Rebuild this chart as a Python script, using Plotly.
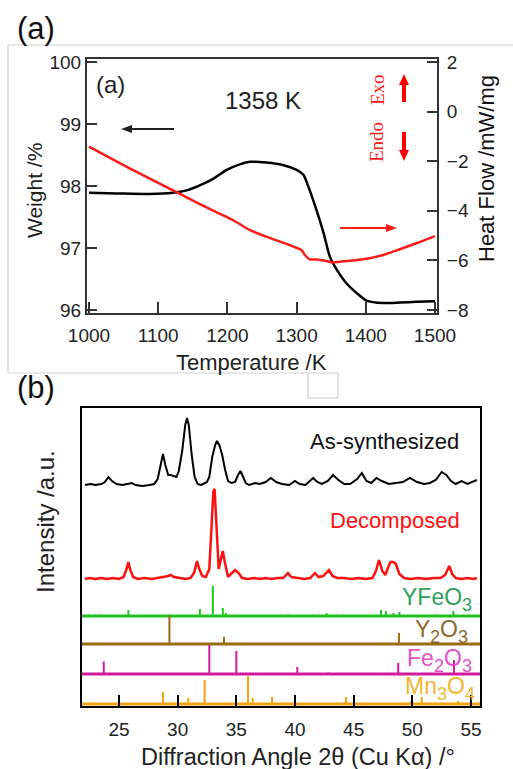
import plotly.graph_objects as go

# ---------------- data: panel (a) TG / DTA ----------------
tg_T = [1000, 1040, 1088, 1121, 1141, 1160, 1180, 1199, 1218, 1233, 1256, 1280, 1300, 1310,
        1317, 1327, 1339, 1348, 1358, 1372, 1387, 1401, 1425, 1450, 1473, 1500]
tg_w = [97.89, 97.88, 97.87, 97.89, 97.93, 98.01, 98.12, 98.26, 98.35, 98.39, 98.38, 98.34, 98.26, 98.18,
        97.99, 97.67, 97.24, 96.86, 96.65, 96.43, 96.27, 96.15, 96.11, 96.12, 96.13, 96.14]
dta_T = [1000, 1063, 1130, 1160, 1208, 1232, 1256, 1280, 1300, 1307, 1312, 1319, 1329, 1343,
         1353, 1377, 1401, 1425, 1449, 1473, 1500]
dta_h = [-1.41, -2.35, -3.30, -3.73, -4.37, -4.77, -5.04, -5.28, -5.49, -5.58, -5.78, -5.96, -5.96, -6.02,
         -6.08, -6.01, -5.93, -5.78, -5.55, -5.31, -5.02]
temp_ticks = [1000, 1100, 1200, 1300, 1400, 1500]
weight_ticks = [96, 97, 98, 99, 100]
heat_ticks = [-8, -6, -4, -2, 0, 2]

# ---------------- data: panel (b) XRD ----------------
as_x = [22.1, 22.6, 23.0, 23.5, 23.8, 24.1, 24.4, 24.8, 25.3, 25.8, 26.1, 26.4, 27.0, 27.6, 28.0, 28.3,
        28.55, 28.75, 28.95, 29.2, 29.4, 29.7, 29.9, 30.1, 30.4, 30.65, 30.8, 30.95, 31.2, 31.45, 31.7,
        32.0, 32.3, 32.5, 32.7, 32.95, 33.2, 33.35, 33.55, 33.8, 34.05, 34.3, 34.6, 34.9, 35.15, 35.35,
        35.55, 35.8, 36.1, 36.6, 37.0, 37.5, 37.95, 38.4, 38.9, 39.5, 40.0, 40.4, 40.9, 41.2, 41.55,
        41.9, 42.3, 42.8, 43.25, 43.7, 44.2, 44.7, 45.3, 45.7, 46.1, 46.5, 46.95, 47.4, 48.0, 48.6,
        49.2, 49.8, 50.4, 51.0, 51.5, 52.0, 52.5, 52.9, 53.3, 53.7, 54.2, 54.7, 55.1, 55.5]
as_i = [0, 1, 0, 1, 3, 8, 4, 1, 0, 1, 2, 0, -1, 0, 1, 6,
        22, 31, 20, 10, 10, 9, 8, 14, 35, 60, 67, 60, 30, 8, 1,
        0, 2, 3, 8, 28, 40, 44, 40, 30, 15, 4, 2, 3, 10, 14,
        9, 2, 0, 2, 1, 3, 7, 3, 1, 0, 4, 1, 0, 3, 7,
        3, 1, 4, 10, 5, 1, 1, 6, 12, 4, 2, 7, 4, 1, 2,
        3, 7, 3, 1, 2, 5, 13, 10, 4, 1, 4, 1, 3, 5]

dec_x = [22.1, 22.5, 23.0, 23.5, 24.0, 24.5, 25.0, 25.4, 25.65, 25.8, 25.95, 26.2, 26.6, 27.2, 27.8,
         28.4, 28.9, 29.2, 29.4, 29.7, 30.2, 30.7, 31.1, 31.4, 31.65, 31.85, 32.1, 32.4, 32.7, 32.9,
         33.05, 33.15, 33.3, 33.5, 33.65, 33.85, 34.0, 34.3, 34.55, 34.9, 35.2, 35.5, 36.0, 36.5, 37.0,
         37.5, 38.0, 38.5, 39.0, 39.4, 39.7, 40.2, 40.8, 41.3, 41.7, 42.0, 42.4, 42.9, 43.2, 43.6,
         44.2, 44.8, 45.4, 46.0, 46.6, 46.9, 47.16, 47.45, 47.7, 47.95, 48.15, 48.4, 48.6, 48.9, 49.3,
         49.8, 50.5, 51.2, 51.8, 52.4, 52.8, 53.15, 53.4, 53.7, 54.2, 54.7, 55.2, 55.5]
dec_i = [0, 1, 0, 1, 0, 1, 0, 2, 10, 17, 10, 2, 0, 1, 0,
         1, 2, 3, 4, 2, 1, 0, 1, 6, 18, 10, 3, 2, 10, 50,
         88, 90, 55, 10, 18, 28, 18, 2, 5, 9, 6, 1, 0, 1, 0,
         1, 0, 1, 1, 6, 2, 1, 0, 1, 6, 2, 3, 9, 3, 1,
         1, 0, 1, 0, 1, 8, 19, 8, 4, 12, 17, 17, 15, 5, 1,
         0, 1, 0, 1, 1, 4, 13, 5, 1, 0, 1, 0, 1]

yfeo3_pos = [23.0, 23.3, 25.8, 31.9, 33.0, 33.85, 34.1, 39.4, 39.6, 41.56, 42.7, 43.6, 47.33, 47.75, 48.4, 48.9, 52.0, 53.5]
yfeo3_int = [1.5, 1.5, 6, 7, 30, 8, 3, 1.5, 1, 1.5, 3, 1.5, 6, 5, 3, 4, 1.5, 5]
y2o3_pos = [29.3, 33.95, 48.86]
y2o3_int = [29, 7, 11]
fe2o3_pos = [23.7, 32.7, 35.0, 38.95, 40.2, 42.85, 48.8, 53.55]
fe2o3_int = [12.5, 29, 23, 1, 7, 1.5, 11, 14]
mn3o4_pos = [28.75, 30.9, 32.3, 36.0, 36.4, 38.05, 44.35, 49.9, 50.8, 53.9]
mn3o4_int = [12, 6, 24, 28, 6, 7, 7, 3, 7, 3]
theta_ticks = [25, 30, 35, 40, 45, 50, 55]

# ---------------- layout helpers ----------------
W, H = 513, 769
def fx(p): return p / W
def fy(p): return 1 - p / H

FONT = "Liberation Sans, Arial, sans-serif"
SERIF = "Liberation Serif, Times New Roman, serif"

fig = go.Figure()

# panel (a)
fig.add_trace(go.Scatter(x=tg_T, y=tg_w, mode="lines", line=dict(color="black", width=2.5, shape="spline", smoothing=0.6),
                         xaxis="x", yaxis="y", showlegend=False, hoverinfo="skip"))
fig.add_trace(go.Scatter(x=dta_T, y=dta_h, mode="lines", line=dict(color="#ff1a1a", width=2.5, shape="spline", smoothing=0.6),
                         xaxis="x", yaxis="y2", showlegend=False, hoverinfo="skip"))

# panel (b)
XMIN, XMAX = 21.85, 55.77
BASE_AS, BASE_DEC = 221, 127
phases = [
    (yfeo3_pos, yfeo3_int, 90, "#1ec51e"),
    (y2o3_pos, y2o3_int, 62, "#9c6a12"),
    (fe2o3_pos, fe2o3_int, 32, "#d01aa0"),
    (mn3o4_pos, mn3o4_int, 2, "#f5a30a"),
]
fig.add_trace(go.Scatter(x=as_x, y=[BASE_AS + v for v in as_i], mode="lines", line=dict(color="black", width=2),
                         xaxis="x2", yaxis="y3", showlegend=False, hoverinfo="skip"))
fig.add_trace(go.Scatter(x=dec_x, y=[BASE_DEC + v for v in dec_i], mode="lines", line=dict(color="#ff1010", width=2.5),
                         xaxis="x2", yaxis="y3", showlegend=False, hoverinfo="skip"))
for pos, ints, base, col in phases:
    xs, ys = [], []
    for p, v in zip(pos, ints):
        xs += [p, p, None]
        ys += [base, base + v, None]
    fig.add_trace(go.Scatter(x=[XMIN, XMAX], y=[base, base], mode="lines", line=dict(color=col, width=3),
                             xaxis="x2", yaxis="y3", showlegend=False, hoverinfo="skip"))
    fig.add_trace(go.Scatter(x=xs, y=ys, mode="lines", line=dict(color=col, width=2),
                             xaxis="x2", yaxis="y3", showlegend=False, hoverinfo="skip"))

tickfont = dict(family=FONT, size=19, color="#222")
fig.update_layout(
    width=W, height=H, autosize=False, showlegend=False,
    margin=dict(l=0, r=0, t=0, b=0, pad=0, autoexpand=False),
    paper_bgcolor="white", plot_bgcolor="white",
    xaxis=dict(domain=[fx(87), fx(437)], range=[997.1, 1502.9], tickvals=temp_ticks, ticks="inside", ticklen=11,
               tickwidth=2, tickcolor="#333", showline=True, linecolor="#333", linewidth=2, mirror=True,
               showgrid=False, zeroline=False, tickfont=tickfont, ticklabelstandoff=4, anchor="y", automargin=False),
    yaxis=dict(domain=[fy(313), fy(59)], range=[95.95, 100.05], tickvals=weight_ticks, ticks="inside", ticklen=10,
               tickwidth=2, tickcolor="#333", showline=True, linecolor="#333", linewidth=2, mirror=True,
               showgrid=False, zeroline=False, tickfont=tickfont, anchor="x", automargin=False),
    yaxis2=dict(overlaying="y", side="right", range=[-8.12, 2.12], tickvals=heat_ticks, ticks="inside", ticklen=10,
                tickwidth=2, tickcolor="#333", showline=True, linecolor="#333", linewidth=2,
                showgrid=False, zeroline=False, tickfont=tickfont, anchor="x", ticklabelstandoff=4, automargin=False),
    xaxis2=dict(domain=[fx(82), fx(480)], range=[XMIN, XMAX], tickvals=theta_ticks, ticks="inside", ticklen=11,
                tickwidth=2, tickcolor="black", showline=True, linecolor="black", linewidth=2, mirror=True,
                showgrid=False, zeroline=False, tickfont=tickfont, ticklabelstandoff=5, anchor="y3", automargin=False),
    yaxis3=dict(domain=[fy(706), fy(408)], range=[0, 298], showticklabels=False, ticks="",
                showline=True, linecolor="black", linewidth=2, mirror=True,
                showgrid=False, zeroline=False, anchor="x2", automargin=False),
)

ann = []
def text(x, y, s, size, color="#222", xanchor="center", angle=0, family=FONT):
    ann.append(dict(xref="paper", yref="paper", x=fx(x), y=fy(y), text=s, showarrow=False,
                    xanchor=xanchor, yanchor="middle", textangle=angle, borderpad=0,
                    font=dict(family=family, size=size, color=color)))

text(16, 28, "(a)", 31, "#111", xanchor="left")
text(16, 387, "(b)", 31, "#111", xanchor="left")
text(34, 191, "Weight /%", 21, angle=-90)
text(487, 169, "Heat Flow /mW/mg", 22, "#111", angle=-90)
text(251, 362, "Temperature /K", 22)
text(95, 84, "(a)", 24, xanchor="left")
text(263, 101, "1358 K", 24)
text(377, 90, "Exo", 19, "#ff1a1a", angle=-90, family=SERIF)
text(377, 142, "Endo", 19, "#ff1a1a", angle=-90, family=SERIF)

text(45, 522, "Intensity /a.u.", 24, angle=-90)
text(298, 757, "Diffraction Angle 2θ (Cu Kα) /°", 23.5)
text(460, 441, "As-synthesized", 22, "#111", xanchor="right")
text(461, 520, "Decomposed", 22, "#ff1010", xanchor="right")

# chemical formulas: main letters + lowered, slightly smaller digits
CW = {"Y": .667, "F": .611, "e": .556, "O": .778, "M": .833, "n": .556}
MAIN, SUB, DROP = 23, 18, 8
def formula(parts, right, cy, color):
    widths = []
    for s in parts:
        if s.isdigit():
            widths.append(.556 * SUB * len(s))
        else:
            widths.append(sum(CW[c] for c in s) * MAIN)
    x = right - sum(widths)
    for s, w in zip(parts, widths):
        if s.isdigit():
            text(x, cy + DROP, s, SUB, color, xanchor="left")
        else:
            text(x, cy, s, MAIN, color, xanchor="left")
        x += w

formula(["YFeO", "3"], 471, 597, "#2ea05a")
formula(["Y", "2", "O", "3"], 467, 629, "#8a6a30")
formula(["Fe", "2", "O", "3"], 471, 658, "#e64fc8")
formula(["Mn", "3", "O", "4"], 474, 686, "#f5b630")
fig.update_layout(annotations=ann)

shapes = []
def pline(x0, y0, x1, y1, color, width):
    shapes.append(dict(type="line", xref="paper", yref="paper", x0=fx(x0), y0=fy(y0), x1=fx(x1), y1=fy(y1),
                       line=dict(color=color, width=width)))

def ptri(pts, color):
    d = "M " + " L ".join(f"{fx(a):.5f},{fy(b):.5f}" for a, b in pts) + " Z"
    shapes.append(dict(type="path", xref="paper", yref="paper", path=d, fillcolor=color, line=dict(width=0)))

# light gray frame of panel (a) and small notch box
for x0, y0, x1, y1 in [(8, 45, 513, 45), (8, 45, 8, 373), (8, 373, 338, 373),
                       (308, 373, 308, 398), (308, 398, 338, 398), (338, 373, 338, 398)]:
    pline(x0, y0, x1, y1, "#d0d0d0", 1.2)

# arrows (decorative)
pline(131, 129, 174, 129, "#222", 1.8)
ptri([(121, 129), (132, 125), (132, 133)], "#222")
pline(340, 228, 387, 228, "#ff1a1a", 1.8)
ptri([(397, 228), (386, 224), (386, 232)], "#ff1a1a")
pline(404, 84, 404, 102, "#ff0000", 4)
ptri([(404, 74), (399, 85), (409, 85)], "#ff0000")
pline(404, 132, 404, 150, "#ff0000", 4)
ptri([(404, 161), (399, 150), (409, 150)], "#ff0000")
fig.update_layout(shapes=shapes)

fig.write_html("out.html")
